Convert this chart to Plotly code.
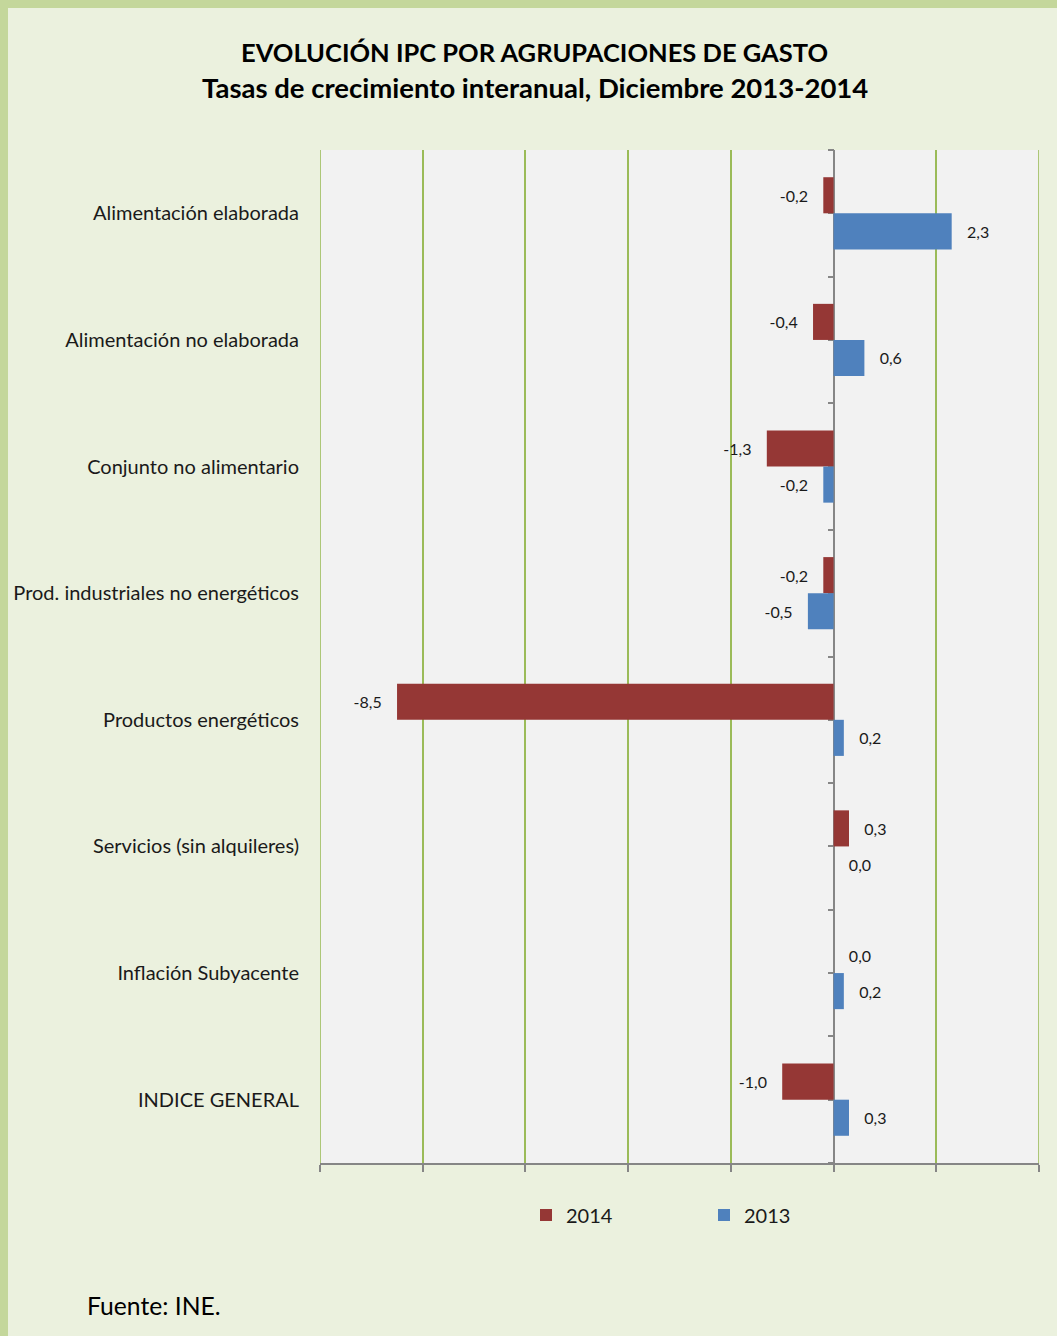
import plotly.graph_objects as go

categories = [
    "Alimentación elaborada",
    "Alimentación no elaborada",
    "Conjunto no alimentario",
    "Prod. industriales no energéticos",
    "Productos energéticos",
    "Servicios (sin alquileres)",
    "Inflación Subyacente",
    "INDICE GENERAL",
]
values_2014 = [-0.2, -0.4, -1.3, -0.2, -8.5, 0.3, 0.0, -1.0]
values_2013 = [2.3, 0.6, -0.2, -0.5, 0.2, 0.0, 0.2, 0.3]
series_names = ["2014", "2013"]
series_colors = ["#953735", "#4F81BD"]
x_ticks = [-10, -8, -6, -4, -2, 0, 2, 4]

FONT = "Lato"
GRID = "#9BBB59"


def label(v):
    s = f"{v:.1f}".replace(".", ",")
    return ("   " + s) if v >= 0 else (s + "   ")


fig = go.Figure()
for name, vals, col in zip(series_names, [values_2014, values_2013], series_colors):
    fig.add_trace(go.Bar(
        name=name, y=categories, x=vals, orientation="h",
        marker=dict(color=col, line=dict(width=0)),
        text=[label(v) for v in vals], textposition="outside",
        textfont=dict(family=FONT, size=16, color="#1a1a1a"),
        cliponaxis=False,
    ))

# invisible helper so the tick-only category axis at x=0 is rendered
n = len(categories)
fig.add_trace(go.Scatter(x=[0, 0], y=[-0.5, n - 0.5], yaxis="y2", mode="lines",
                         line=dict(width=0, color="rgba(0,0,0,0)"),
                         showlegend=False, hoverinfo="skip"))

# page px -> paper helpers (page has 8px offset via body margin)
L, T, W, H = 320, 150, 719, 1013


def px(xp):
    return (xp - L) / W


def py(yp):
    return (T + H - yp) / H


# gridlines at the two range ends (plotly omits them at the edges)
edge_lines = [dict(type="line", xref="x", yref="paper", x0=v, x1=v, y0=0, y1=1,
                   line=dict(color=GRID, width=1.6), layer="below")
              for v in (x_ticks[0], x_ticks[-1])]

fig.update_layout(
    width=1049, height=1328,
    margin=dict(l=312, r=18, t=142, b=173, pad=0, autoexpand=False),
    paper_bgcolor="#EBF1DE",
    plot_bgcolor="#F2F2F2",
    barmode="group", bargap=0.43, bargroupgap=0,
    separators=",.",
    font=dict(family=FONT, color="#1a1a1a"),
    showlegend=True,
    legend=dict(orientation="h", x=px(526), xanchor="left", y=py(1215), yanchor="middle",
                font=dict(family=FONT, size=20, color="#1a1a1a"),
                entrywidth=133, entrywidthmode="pixels", bgcolor="rgba(0,0,0,0)",
                traceorder="normal"),
    xaxis=dict(range=[x_ticks[0], x_ticks[-1]], tickvals=x_ticks, showticklabels=False,
               showgrid=True, gridcolor=GRID, gridwidth=1.6,
               zeroline=True, zerolinecolor="#868686", zerolinewidth=1.6,
               showline=True, linecolor="#868686", linewidth=1.6,
               ticks="outside", ticklen=7, tickwidth=1.6, tickcolor="#868686",
               automargin=False),
    yaxis=dict(type="category", categoryorder="array", categoryarray=categories,
               autorange="reversed", showgrid=False, zeroline=False, showline=False,
               ticks="", ticklabelstandoff=20, automargin=False,
               tickfont=dict(family=FONT, size=20, color="#1a1a1a")),
    yaxis2=dict(overlaying="y", anchor="free", position=px(834), side="left",
                range=[n - 0.5, -0.5], tickvals=[k * 0.5 - 0.5 for k in range(2 * n + 1)],
                showticklabels=False, showgrid=False, zeroline=False, showline=False,
                ticks="outside", ticklen=6, tickwidth=1.6, tickcolor="#868686",
                layer="below traces", automargin=False),
    shapes=edge_lines,
    annotations=[
        dict(text="<b>EVOLUCIÓN IPC POR AGRUPACIONES DE GASTO</b>", xref="paper", yref="paper",
             x=px(534.5), y=py(52), xanchor="center", yanchor="middle", showarrow=False,
             font=dict(family=FONT, size=25.5, color="#000000")),
        dict(text="<b>Tasas de crecimiento interanual, Diciembre 2013-2014</b>", xref="paper", yref="paper",
             x=px(534.5), y=py(87), xanchor="center", yanchor="middle", showarrow=False,
             font=dict(family=FONT, size=27.5, color="#000000")),
        dict(text="Fuente: INE.", xref="paper", yref="paper",
             x=px(85), y=py(1305), xanchor="left", yanchor="middle", showarrow=False,
             font=dict(family=FONT, size=24.7, color="#000000")),
    ],
)

post = ("document.body.style.margin='8px 0 0 8px';"
        "document.body.style.background='#C4D79B';"
        "document.body.style.overflow='hidden';")
fig.write_html("out.html", post_script=post)
